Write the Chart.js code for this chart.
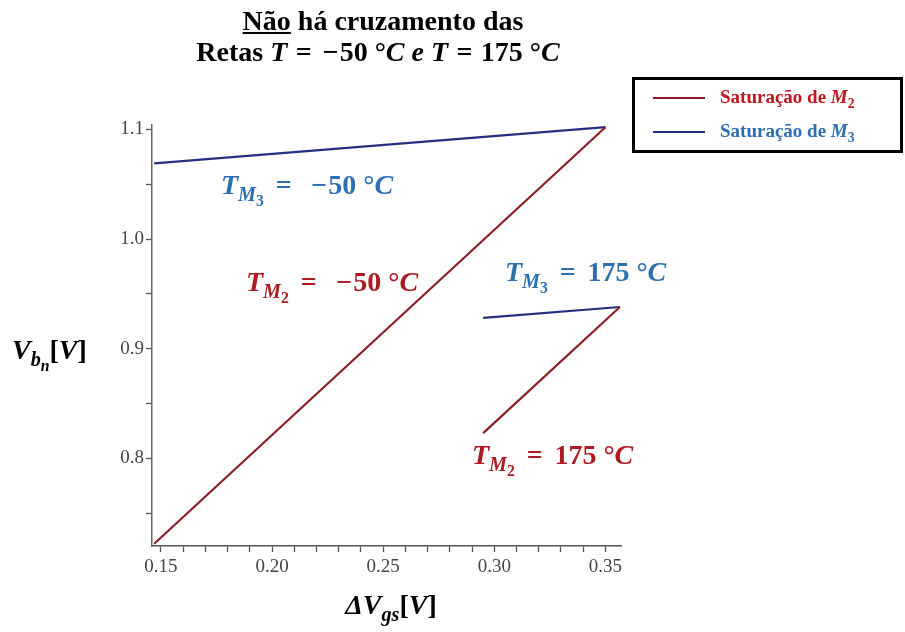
<!DOCTYPE html>
<html>
<head>
<meta charset="utf-8">
<script src="https://cdn.jsdelivr.net/npm/chart.js@4/dist/chart.umd.min.js"></script>
<style>
  html, body { margin: 0; padding: 0; background: #fff; }
  #wrap { position: relative; width: 905px; height: 632px; overflow: hidden;
          font-family: 'Liberation Serif', 'Times New Roman', serif; font-weight: bold; }
  #wrap canvas { position: absolute; left: 0; top: 0; }
  .lbl { position: absolute; white-space: nowrap; line-height: 1.15; }
  .sub { position: relative; font-size: 0.72em; top: 0.36em; }
  .sub .sub { font-size: 0.78em; top: 0.3em; }
  i { font-style: italic; }
  .op { padding: 0 0.3em; }
  .minus { padding: 0 0.03em 0 0.1em; }
  .ann .op { padding: 0 0.42em; }
  .ann .minus { padding: 0 0.04em 0 0.28em; }
  .red { color: #ad1a1f; }
  .blue { color: #2d6fb3; }
  #legend { position: absolute; left: 632px; top: 77px; width: 271px; height: 76px;
            box-sizing: border-box; border: 3px solid #000; }
  .swatch { position: absolute; left: 18px; width: 52px; height: 2px; }
</style>
</head>
<body>
<div id="wrap">
  <canvas id="chart" width="905" height="632"></canvas>

  <div class="lbl" style="left:0;width:766px;text-align:center;top:5px;font-size:28px;"><u>Não</u> há cruzamento das</div>
  <div class="lbl" style="left:0;width:756px;text-align:center;top:36px;font-size:28px;">Retas <i>T</i><span class="op">=</span><span class="minus">−</span>50 °<i>C</i> <i>e</i> <i>T</i><span class="op">=</span>175 °<i>C</i></div>

  <div id="legend">
    <div class="swatch" style="top:17px;background:#8c1d27;"></div>
    <div class="swatch" style="top:51px;background:#23307f;"></div>
  </div>
  <div class="lbl red" style="left:720px;top:86px;font-size:19px;color:#c0161e;">Saturação de <i>M</i><span class="sub">2</span></div>
  <div class="lbl blue" style="left:720px;top:120px;font-size:19px;">Saturação de <i>M</i><span class="sub">3</span></div>

  <div class="lbl ann blue" style="left:221px;top:169px;font-size:28px;"><i>T</i><span class="sub"><i>M</i><span class="sub">3</span></span><span class="op">=</span><span class="minus">−</span>50 °<i>C</i></div>
  <div class="lbl ann red" style="left:246px;top:266px;font-size:28px;"><i>T</i><span class="sub"><i>M</i><span class="sub">2</span></span><span class="op">=</span><span class="minus">−</span>50 °<i>C</i></div>
  <div class="lbl ann blue" style="left:505px;top:256px;font-size:28px;"><i>T</i><span class="sub"><i>M</i><span class="sub">3</span></span><span class="op">=</span>175 °<i>C</i></div>
  <div class="lbl ann red" style="left:472px;top:439px;font-size:28px;"><i>T</i><span class="sub"><i>M</i><span class="sub">2</span></span><span class="op">=</span>175 °<i>C</i></div>

  <div class="lbl" style="left:12px;top:334px;font-size:28px;"><i>V</i><span class="sub"><i>b</i><span class="sub"><i>n</i></span></span>[<i>V</i>]</div>
  <div class="lbl" style="left:0;width:782px;text-align:center;top:589px;font-size:28px;"><i>ΔV</i><span class="sub"><i>gs</i></span>[<i>V</i>]</div>
</div>

<script>
// ΔVgs [V] end points of each saturation boundary
const dVgsCold = [0.147, 0.350];   // T = -50 °C
const dVgsHot  = [0.295, 0.3565];  // T = 175 °C

// Vbn [V] along the boundaries
const vbnM2Cold = [0.722, 1.102];
const vbnM3Cold = [1.069, 1.102];
const vbnM2Hot  = [0.823, 0.938];
const vbnM3Hot  = [0.928, 0.938];

// Axis ticks (minor + major) and the labelled majors
const xTickValues = [0.15, 0.16, 0.17, 0.18, 0.19, 0.20, 0.21, 0.22, 0.23, 0.24, 0.25,
                     0.26, 0.27, 0.28, 0.29, 0.30, 0.31, 0.32, 0.33, 0.34, 0.35];
const xMajorValues = [0.15, 0.20, 0.25, 0.30, 0.35];
const xTickLabels  = ['0.15', '0.20', '0.25', '0.30', '0.35'];
const yTickValues  = [0.75, 0.80, 0.85, 0.90, 0.95, 1.00, 1.05, 1.10];
const yMajorValues = [0.8, 0.9, 1.0, 1.1];
const yTickLabels  = ['0.8', '0.9', '1.0', '1.1'];

const M2_COLOR = '#8c1d27';
const M3_COLOR = '#23307f';
const FONT = "'Liberation Serif', 'Times New Roman', serif";

const pts = (xs, ys) => xs.map((x, i) => ({ x: x, y: ys[i] }));
const majorIndex = (list, v) => list.findIndex(m => Math.abs(m - v) < 1e-9);

const lineSet = (label, data, color) => ({
  label: label, data: data, showLine: true, borderColor: color, backgroundColor: color,
  borderWidth: 2.2, pointRadius: 0, tension: 0
});

new Chart(document.getElementById('chart'), {
  type: 'scatter',
  data: {
    datasets: [
      lineSet('Saturação de M2 (-50 °C)', pts(dVgsCold, vbnM2Cold), M2_COLOR),
      lineSet('Saturação de M3 (-50 °C)', pts(dVgsCold, vbnM3Cold), M3_COLOR),
      lineSet('Saturação de M2 (175 °C)', pts(dVgsHot, vbnM2Hot), M2_COLOR),
      lineSet('Saturação de M3 (175 °C)', pts(dVgsHot, vbnM3Hot), M3_COLOR)
    ]
  },
  options: {
    responsive: false,
    animation: false,
    layout: { padding: { left: 112, right: 284, top: 125, bottom: 46 } },
    plugins: { legend: { display: false }, title: { display: false }, tooltip: { enabled: false } },
    scales: {
      x: {
        type: 'linear', min: 0.146, max: 0.357,
        afterFit: s => { s.height = 40; },
        afterBuildTicks: s => { s.ticks = xTickValues.map(v => ({ value: v })); },
        border: { color: '#555', width: 1.5 },
        grid: { drawOnChartArea: false, tickLength: 6, tickColor: '#555', tickWidth: 1.3 },
        ticks: {
          autoSkip: false, maxRotation: 0, minRotation: 0, padding: 4,
          color: '#444', font: { family: FONT, size: 19 },
          callback: v => { const i = majorIndex(xMajorValues, v); return i >= 0 ? xTickLabels[i] : ''; }
        }
      },
      y: {
        type: 'linear', min: 0.72, max: 1.104,
        afterFit: s => { s.width = 40; },
        afterBuildTicks: s => { s.ticks = yTickValues.map(v => ({ value: v })); },
        border: { color: '#666', width: 1.5 },
        grid: { drawOnChartArea: false, tickLength: 6, tickColor: '#555', tickWidth: 1.3 },
        ticks: {
          autoSkip: false, padding: 2,
          color: '#444', font: { family: FONT, size: 19 },
          callback: v => { const i = majorIndex(yMajorValues, v); return i >= 0 ? yTickLabels[i] : ''; }
        }
      }
    }
  }
});
</script>
</body>
</html>
